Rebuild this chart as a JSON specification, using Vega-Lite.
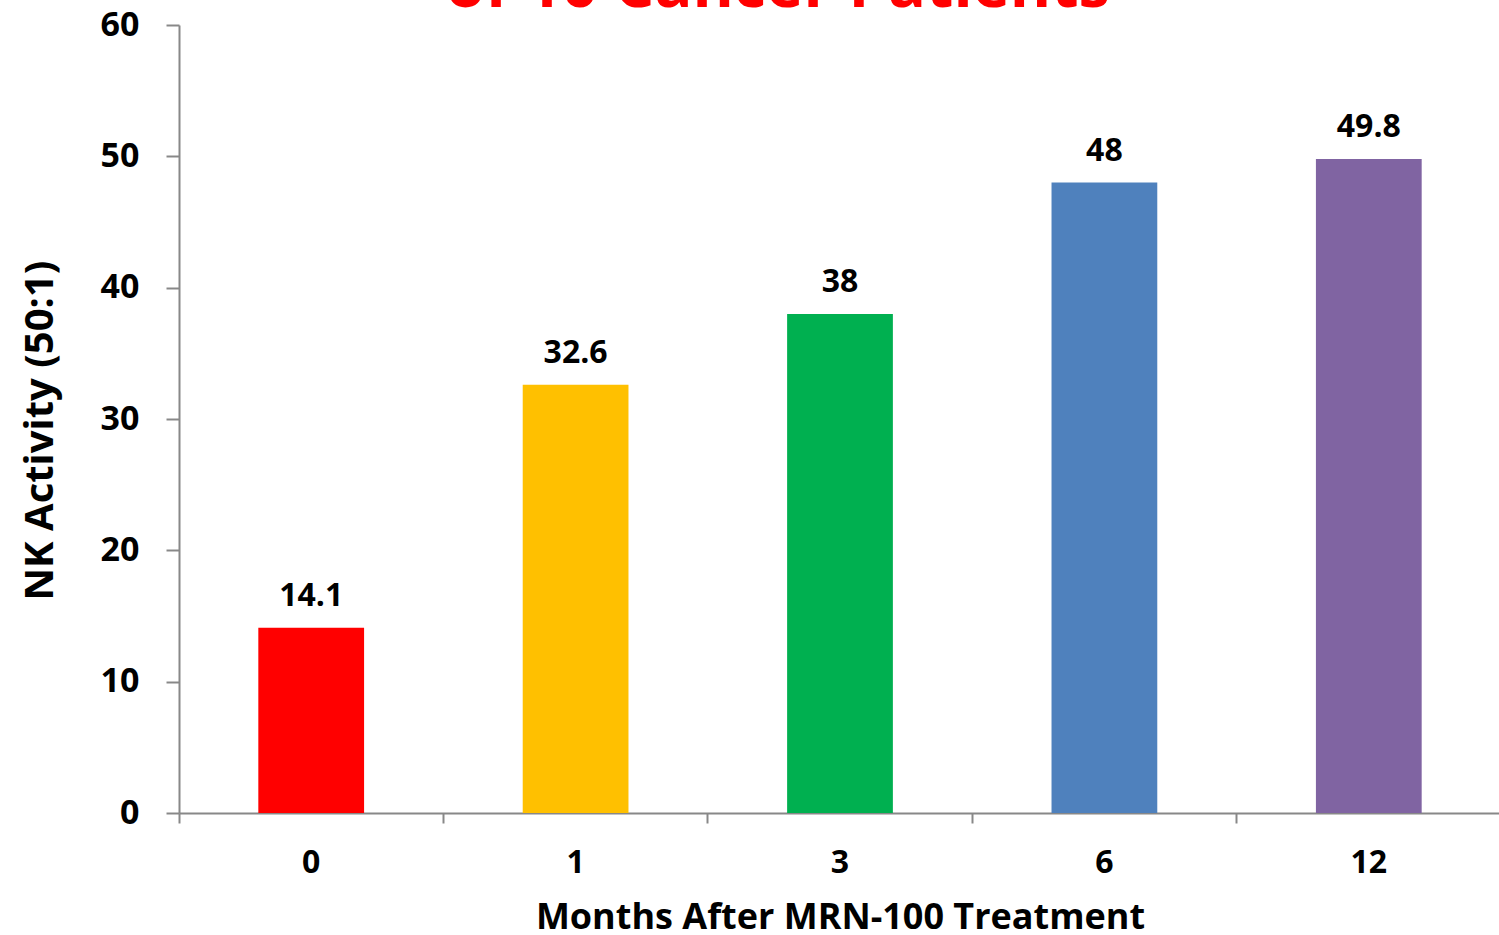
{
  "$schema": "https://vega.github.io/schema/vega-lite/v6.json",
  "autosize": "none",
  "width": 1322,
  "height": 788,
  "padding": {"left": 179, "top": 25, "right": 0, "bottom": 122},
  "background": "white",
  "config": {"view": {"stroke": null}, "font": "Open Sans"},
  "title": {
    "text": "of 10 Cancer Patients",
    "color": "#FF0000",
    "fontSize": 63,
    "font": "Open Sans",
    "fontWeight": "bold",
    "anchor": "middle",
    "dx": -62,
    "dy": 62,
    "offset": 0,
    "baseline": "alphabetic"
  },
  "data": {
    "values": [
      {"month": "0", "value": 14.1},
      {"month": "1", "value": 32.6},
      {"month": "3", "value": 38},
      {"month": "6", "value": 48},
      {"month": "12", "value": 49.8}
    ]
  },
  "encoding": {
    "x": {
      "field": "month",
      "type": "ordinal",
      "sort": ["0", "1", "3", "6", "12"],
      "scale": {"paddingInner": 0, "paddingOuter": 0},
      "axis": {
        "bandPosition": 0,
        "labelOffset": 0,
        "labelAngle": 0,
        "labelFontSize": 32,
        "labelFontWeight": "bold",
        "labelColor": "black",
        "labelPadding": 24,
        "tickSize": 10,
        "tickWidth": 2,
        "tickColor": "#888888",
        "domainColor": "#888888",
        "domainWidth": 2,
        "title": "Months After MRN-100 Treatment",
        "titleFontSize": 36,
        "titleFontWeight": "bold",
        "titleColor": "black",
        "titlePadding": 22
      }
    },
    "y": {
      "field": "value",
      "type": "quantitative",
      "scale": {"domain": [0, 60], "nice": false},
      "axis": {
        "values": [0, 10, 20, 30, 40, 50, 60],
        "grid": false,
        "labelFontSize": 34,
        "labelFontWeight": "bold",
        "labelColor": "black",
        "labelPadding": 27,
        "tickSize": 13,
        "tickWidth": 2,
        "tickColor": "#888888",
        "domainColor": "#888888",
        "domainWidth": 2,
        "title": "NK Activity (50:1)",
        "titleFontSize": 40,
        "titleFontWeight": "bold",
        "titleColor": "black",
        "titlePadding": 40,
        "titleY": 405
      }
    }
  },
  "layer": [
    {
      "mark": {"type": "bar", "width": {"band": 0.4}},
      "encoding": {
        "color": {
          "field": "month",
          "type": "ordinal",
          "sort": ["0", "1", "3", "6", "12"],
          "scale": {"domain": ["0", "1", "3", "6", "12"], "range": ["#FF0000", "#FFC000", "#00B050", "#4F81BD", "#8064A2"]},
          "legend": null
        }
      }
    },
    {
      "mark": {"type": "text", "dy": -32, "fontSize": 32, "fontWeight": "bold", "color": "black", "font": "Open Sans"},
      "encoding": {"text": {"field": "value", "type": "quantitative"}}
    }
  ]
}
